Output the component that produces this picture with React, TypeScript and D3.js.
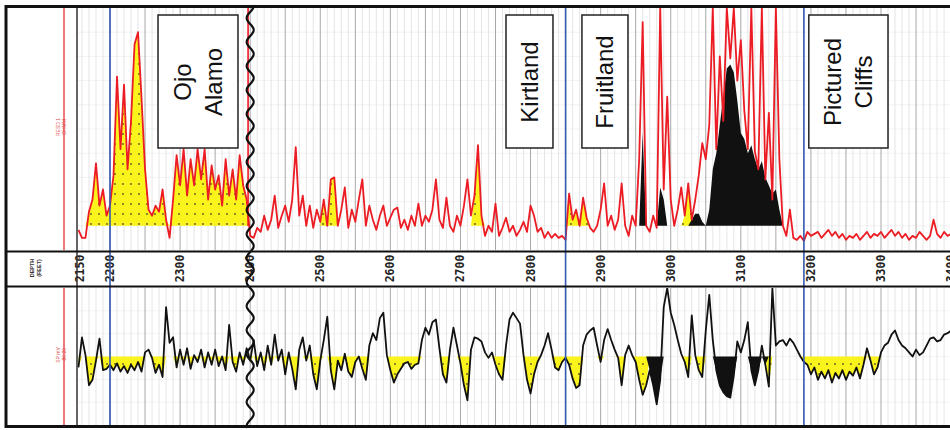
import React from "react";
import * as d3 from "d3";

// ---------- DATA ----------
const depthStart = 2155;
const depthStep = 5;

// Upper track (red curve), 2155 .. 3405 ft every 5 ft
const resistivity = [
  10, 6, 6, 19, 25, 43, 22, 30, 17, 22,
  37, 86, 50, 82, 40, 64, 102, 108, 75, 40,
  20, 17, 22, 19, 30, 15, 6, 25, 47, 32,
  50, 27, 45, 32, 50, 35, 50, 25, 42, 30,
  37, 22, 45, 27, 40, 25, 47, 32, 25, 7,
  6, 11, 9, 17, 10, 15, 27, 11, 17, 22,
  14, 25, 51, 17, 27, 12, 22, 11, 20, 14,
  25, 12, 35, 36, 12, 20, 31, 11, 20, 14,
  25, 35, 12, 22, 15, 10, 17, 22, 12, 16,
  20, 21, 11, 15, 10, 17, 12, 23, 12, 17,
  14, 20, 35, 15, 11, 26, 12, 9, 17, 12,
  22, 35, 17, 27, 52, 17, 7, 12, 9, 23,
  7, 11, 16, 9, 12, 7, 10, 14, 9, 22,
  17, 9, 11, 6, 9, 6, 8, 6, 7, 5,
  28, 15, 20, 12, 26, 16, 11, 9, 12, 20,
  33, 12, 17, 10, 15, 33, 12, 7, 17, 12,
  45, 113, 12, 9, 17, 11, 120, 30, 76, 25,
  12, 20, 31, 17, 33, 15, 25, 37, 53, 45,
  62, 120, 50, 96, 64, 120, 95, 120, 84, 104,
  69, 50, 120, 49, 40, 120, 35, 68, 25, 120,
  45, 12, 7, 20, 6, 5, 7, 4.5, 9, 7,
  8, 9, 6, 8, 10, 7, 9, 6, 8, 5,
  7, 6, 8, 5, 7, 9, 6, 8, 7, 9,
  6, 8, 10, 7, 9, 6, 8, 5, 7, 6,
  9, 7, 5, 7, 15, 8, 6, 9, 7, 8,
  7,
];

// Lower track (black curve), 2155 .. 3405 ft every 5 ft
const spontaneous = [
  42, 64, 51, 29, 33, 47, 63, 40, 41, 44,
  40, 45, 39, 43, 38, 44, 40, 46, 39, 53,
  55, 49, 38, 44, 35, 86, 60, 64, 42, 55,
  44, 56, 41, 51, 46, 55, 42, 53, 44, 55,
  43, 50, 40, 73, 46, 39, 53, 44, 56, 47,
  62, 43, 53, 40, 58, 44, 66, 47, 55, 37,
  53, 41, 26, 55, 64, 47, 58, 37, 26, 47,
  62, 79, 40, 26, 47, 40, 52, 39, 35, 46,
  50, 41, 33, 58, 67, 62, 78, 82, 51, 40,
  31, 37, 41, 45, 46, 41, 44, 45, 62, 71,
  66, 75, 77, 56, 37, 31, 55, 71, 58, 45,
  29, 18, 55, 64, 63, 61, 53, 49, 53, 44,
  37, 33, 58, 77, 82, 78, 74, 51, 33, 23,
  37, 46, 51, 58, 67, 55, 42, 40, 46, 49,
  44, 34, 27, 29, 58, 66, 69, 71, 58, 46,
  62, 70, 62, 55, 49, 29, 51, 58, 51, 46,
  33, 22, 29, 40, 29, 15, 33, 86, 100, 82,
  73, 62, 52, 46, 35, 80, 51, 40, 35, 69,
  95, 62, 40, 29, 24, 21, 20, 36, 61, 53,
  62, 75, 40, 29, 40, 58, 44, 28, 100, 58,
  61, 62, 58, 63, 60, 55, 50, 46, 44, 37,
  42, 33, 39, 34, 40, 31, 38, 34, 40, 33,
  39, 36, 42, 34, 44, 56, 47, 37, 42, 53,
  58, 60, 66, 69, 62, 58, 56, 53, 50, 55,
  51, 53, 58, 63, 64, 61, 62, 66, 67, 69,
  68,
];

// Coal (black) fill envelope in the upper track, 2955 .. 3160 ft
const coalEnvelopeStart = 2955;
const coalEnvelope = [
  12, 58, 12, 12, 12, 12, 31, 25, 12, 12,
  12, 12, 12, 12, 12, 15, 18, 18, 14, 12,
  20, 40, 48, 62, 76, 90, 92, 88, 74, 58,
  55, 48, 52, 45, 40, 44, 36, 32, 28, 30,
  20, 12,
];

// intervals (ft) where the upper track shows the sand (yellow) fill
const topSandZones = [
  [2160, 2402],
  [2505, 2523],
  [2718, 2730],
  [2853, 2880],
  [3018, 3030],
];
const bottomCoalZones = [
  [2968, 2992],
  [3058, 3137],
];

const depthTicks = [2150, 2200, 2300, 2400, 2500, 2600, 2700, 2800, 2900, 3000, 3100, 3200, 3300, 3400];
const formationTops = [2200, 2850, 3190];
const unconformityDepth = 2400;

const formationNames = [["Ojo", "Alamo"], ["Kirtland"], ["Fruitland"], ["Pictured", "Cliffs"]];
const formationFrom = [2268.5, 2765, 2873.3, 3197];
const formationTo = [2382.6, 2832, 2939, 3310];

const RES_CUTOFF = 12;
const SP_BASELINE = 50;

// ---------- CHART ----------
export default function App() {
  const W = 950;
  const H = 430;
  const plotL = 77;
  const plotR = 952;
  const topT = 8;
  const topB = 250;
  const botT = 288;
  const botB = 425;

  const x = d3.scaleLinear().domain([2200, 3300]).range([110, 881]);
  const yTop = d3.scaleLinear().domain([0, 120]).range([topB, topT]).clamp(true);
  const yBot = d3.scaleLinear().domain([0, 100]).range([botB, botT]).clamp(true);

  const inZone = (d: number, zones: number[][]) => zones.some(([a, b]) => d >= a && d <= b);

  const topData = resistivity.map((v, i) => ({ d: depthStart + i * depthStep, v }));
  const botData = spontaneous.map((v, i) => ({ d: depthStart + i * depthStep, v }));
  const coalData = coalEnvelope.map((v, i) => ({ d: coalEnvelopeStart + i * depthStep, v }));

  const topLine = d3.line<any>().x((p) => x(p.d)).y((p) => yTop(p.v))(topData) || "";
  const topYellow =
    d3
      .area<any>()
      .x((p) => x(p.d))
      .y0(yTop(RES_CUTOFF))
      .y1((p) => yTop(inZone(p.d, topSandZones) ? Math.max(RES_CUTOFF, p.v) : RES_CUTOFF))(topData) || "";
  const topCoal =
    d3
      .area<any>()
      .x((p) => x(p.d))
      .y0(yTop(RES_CUTOFF))
      .y1((p) => yTop(Math.max(RES_CUTOFF, p.v)))(coalData) || "";

  const botLine = d3.line<any>().x((p) => x(p.d)).y((p) => yBot(p.v))(botData) || "";
  const botYellow =
    d3
      .area<any>()
      .x((p) => x(p.d))
      .y0(yBot(SP_BASELINE))
      .y1((p) => yBot(inZone(p.d, bottomCoalZones) ? SP_BASELINE : Math.min(SP_BASELINE, p.v)))(botData) || "";
  const botCoal =
    d3
      .area<any>()
      .x((p) => x(p.d))
      .y0(yBot(SP_BASELINE))
      .y1((p) => yBot(inZone(p.d, bottomCoalZones) ? Math.min(SP_BASELINE, p.v) : SP_BASELINE))(botData) || "";

  const minor = d3.range(2160, 3410, 10).filter((d) => d % 50 !== 0);
  const major = d3.range(2200, 3410, 50);
  const hTop = d3.range(1, 10).map((i) => topT + (i * (topB - topT)) / 10);
  const hBot = d3.range(1, 6).map((i) => botT + (i * (botB - botT)) / 6);

  const ux = x(unconformityDepth);
  const wavePts = d3.range(5, 429, 1).map((yy) => [ux + 3.5 * Math.sin((2 * Math.PI * yy) / 24), yy] as [number, number]);
  const wave = d3.line()(wavePts) || "";

  const sans = "'Liberation Sans', Arial, sans-serif";

  return (
    <svg width={W} height={H} style={{ position: "absolute", left: 0, top: 0, background: "#fff" }}>
      <defs>
        <pattern id="dots" width="8" height="10" patternUnits="userSpaceOnUse">
          <rect width="8" height="10" fill="#faf31c" />
          <circle cx="3" cy="4" r="0.9" fill="#5a5a2a" />
        </pattern>
        <clipPath id="clipTop">
          <rect x={plotL} y={topT} width={plotR - plotL} height={topB - topT} />
        </clipPath>
        <clipPath id="clipBot">
          <rect x={plotL} y={botT} width={plotR - plotL} height={botB - botT} />
        </clipPath>
      </defs>
      <rect x={0} y={0} width={W} height={H} fill="#fff" />

      {/* grids */}
      {[
        [topT, topB],
        [botT, botB],
      ].map(([a, b], k) => (
        <g key={"g" + k}>
          {(k === 0 ? hTop : hBot).map((yy, i) => (
            <line key={"h" + i} x1={plotL} x2={plotR} y1={yy} y2={yy} stroke="#eeeeee" strokeWidth={0.7} />
          ))}
          {minor.map((d) => (
            <line key={"m" + d} x1={x(d)} x2={x(d)} y1={a} y2={b} stroke="#dedede" strokeWidth={0.8} />
          ))}
          {major.map((d) => (
            <line key={"M" + d} x1={x(d)} x2={x(d)} y1={a} y2={b} stroke="#a8a8a8" strokeWidth={1} />
          ))}
        </g>
      ))}

      {/* upper track curves */}
      <g clipPath="url(#clipTop)">
        <path d={topYellow} fill="url(#dots)" />
        <path d={topCoal} fill="#111" />
        <path d={topLine} fill="none" stroke="#ec1c24" strokeWidth={1.8} strokeLinejoin="round" />
        <line x1={x(2397)} x2={x(2397)} y1={topT} y2={226} stroke="#ec1c24" strokeWidth={1.6} />
      </g>

      {/* lower track curves */}
      <g clipPath="url(#clipBot)">
        <path d={botYellow} fill="url(#dots)" />
        <path d={botCoal} fill="#111" />
        <path d={botLine} fill="none" stroke="#111" strokeWidth={1.8} strokeLinejoin="round" />
      </g>

      {/* formation boxes */}
      {formationNames.map((names, i) => {
        const x0 = x(formationFrom[i]);
        const x1 = x(formationTo[i]);
        const cx = (x0 + x1) / 2;
        const cy = 82;
        const n = names.length;
        return (
          <g key={"f" + i}>
            <rect x={x0} y={15} width={x1 - x0} height={133} fill="#fff" stroke="#222" strokeWidth={1.5} />
            <g transform={`translate(${cx},${cy}) rotate(-90)`}>
              {names.map((t, j) => (
                <text
                  key={t}
                  x={0}
                  y={(j - (n - 1) / 2) * 31}
                  dy="0.35em"
                  textAnchor="middle"
                  fontFamily={sans}
                  fontSize={24}
                  fill="#111"
                >
                  {t}
                </text>
              ))}
            </g>
          </g>
        );
      })}

      {/* left label column */}
      <line x1={64} x2={64} y1={topT} y2={topB} stroke="#f07a7a" strokeWidth={2} />
      <line x1={64} x2={64} y1={botT} y2={botB} stroke="#f07a7a" strokeWidth={2} />
      <g transform="translate(60,127) rotate(-90)">
        <text textAnchor="middle" fontFamily={sans} fontSize={5} fill="#e05050">RESD 1</text>
        <text y={6} textAnchor="middle" fontFamily={sans} fontSize={5} fill="#e05050">OHMM</text>
      </g>
      <g transform="translate(60,355) rotate(-90)">
        <text textAnchor="middle" fontFamily={sans} fontSize={5} fill="#e05050">SP mV</text>
        <text y={6} textAnchor="middle" fontFamily={sans} fontSize={5} fill="#e05050">-80  20</text>
      </g>
      <g transform="translate(34,268) rotate(-90)">
        <text textAnchor="middle" fontFamily={sans} fontSize={5.5} fontWeight="bold" fill="#333">DEPTH</text>
        <text y={7} textAnchor="middle" fontFamily={sans} fontSize={5.5} fontWeight="bold" fill="#333">(FEET)</text>
      </g>

      {/* depth labels */}
      {depthTicks.map((d) => (
        <text
          key={"t" + d}
          transform={`translate(${Math.max(x(d), 80)},268.5) rotate(-90)`}
          textAnchor="middle"
          dy="0.35em"
          fontFamily="'DejaVu Sans Mono', monospace"
          fontWeight="bold"
          fontSize={11.5}
          fill="#222"
        >
          {d}
        </text>
      ))}

      {/* formation top lines */}
      {formationTops.map((d) => (
        <line key={"b" + d} x1={x(d)} x2={x(d)} y1={topT} y2={botB + 2} stroke="#3559b0" strokeWidth={1.6} />
      ))}

      {/* frame */}
      <line x1={plotL} x2={plotL} y1={topT} y2={botB + 2} stroke="#333" strokeWidth={1.5} />
      <line x1={6} x2={952} y1={6.5} y2={6.5} stroke="#111" strokeWidth={3} />
      <line x1={6} x2={6} y1={5} y2={428} stroke="#111" strokeWidth={3} />
      <line x1={6} x2={952} y1={251.5} y2={251.5} stroke="#111" strokeWidth={2.2} />
      <line x1={6} x2={952} y1={286.5} y2={286.5} stroke="#111" strokeWidth={2.2} />
      <line x1={6} x2={952} y1={426.5} y2={426.5} stroke="#111" strokeWidth={3} />

      {/* unconformity */}
      <path d={wave} fill="none" stroke="#111" strokeWidth={2.2} />
    </svg>
  );
}
